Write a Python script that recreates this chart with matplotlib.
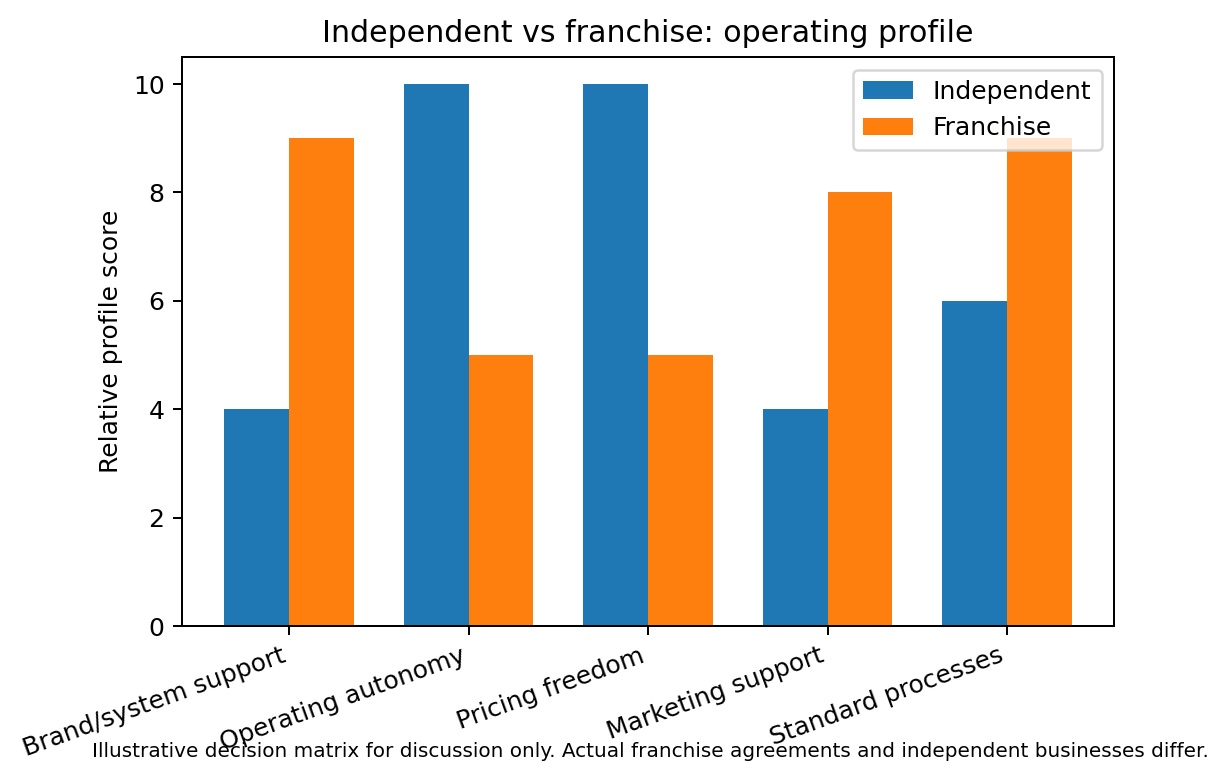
import matplotlib
matplotlib.use("Agg")
import matplotlib.pyplot as plt
import numpy as np

# data
categories = ["Brand/system support", "Operating autonomy", "Pricing freedom",
              "Marketing support", "Standard processes"]
independent = [4, 10, 10, 4, 6]
franchise = [9, 5, 5, 8, 9]

x = np.arange(len(categories))
width = 0.36

fig = plt.figure(figsize=(1225 / 180, 779 / 180), dpi=180)
ax = fig.add_axes([0.1486, 0.1964, 0.7608, 0.7304])

ax.bar(x - width / 2, independent, width, label="Independent", color="#1f77b4")
ax.bar(x + width / 2, franchise, width, label="Franchise", color="#ff7f0e")

ax.set_xticks(x)
ax.set_xticklabels(categories, rotation=20, ha="right")
ax.set_ylabel("Relative profile score")
ax.set_title("Independent vs franchise: operating profile")
ax.set_ylim(0, 10.5)
ax.legend(loc="upper right")

fig.text(0.5306, 0.028,
         "Illustrative decision matrix for discussion only. Actual franchise agreements and independent businesses differ.",
         ha="center", fontsize=8)

fig.savefig("out.png", dpi=180)
